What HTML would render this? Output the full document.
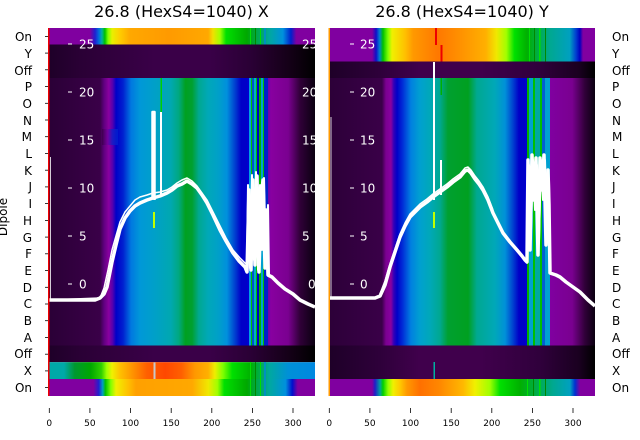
<!DOCTYPE html>
<html><head><meta charset="utf-8"><style>
html,body{margin:0;padding:0;background:#fff;}
svg{display:block;font-family:"DejaVu Sans","Liberation Sans",sans-serif;}
</style></head><body>
<svg width="640" height="440" viewBox="0 0 640 440" xmlns="http://www.w3.org/2000/svg">
<defs>
<clipPath id="cL"><rect x="48" y="28" width="267" height="368"/></clipPath>
<clipPath id="cR"><rect x="329" y="28" width="266" height="368"/></clipPath>
<linearGradient id="lOnT" gradientUnits="userSpaceOnUse" x1="48" y1="0" x2="315" y2="0">
<stop offset="0" stop-color="#8000a0"/><stop offset="0.157" stop-color="#8000a0"/>
<stop offset="0.176" stop-color="#2020d0"/><stop offset="0.191" stop-color="#0070dd"/>
<stop offset="0.202" stop-color="#00b0a0"/><stop offset="0.213" stop-color="#00c000"/>
<stop offset="0.225" stop-color="#80ff00"/><stop offset="0.24" stop-color="#e8f000"/>
<stop offset="0.27" stop-color="#ffcc00"/><stop offset="0.307" stop-color="#ffa800"/>
<stop offset="0.45" stop-color="#ff9a00"/><stop offset="0.6" stop-color="#ffa800"/>
<stop offset="0.618" stop-color="#f0e000"/><stop offset="0.644" stop-color="#a0ff00"/>
<stop offset="0.667" stop-color="#00e000"/><stop offset="0.745" stop-color="#00a800"/>
<stop offset="0.83" stop-color="#00a8a0"/><stop offset="0.88" stop-color="#0090dd"/>
<stop offset="0.91" stop-color="#0020cc"/><stop offset="0.93" stop-color="#8000a0"/>
<stop offset="1" stop-color="#8000a0"/>
</linearGradient>
<linearGradient id="lOnB" gradientUnits="userSpaceOnUse" x1="48" y1="0" x2="315" y2="0">
<stop offset="0" stop-color="#8000a0"/><stop offset="0.17" stop-color="#8000a0"/>
<stop offset="0.19" stop-color="#2020d0"/><stop offset="0.205" stop-color="#00a0c0"/>
<stop offset="0.215" stop-color="#00c000"/><stop offset="0.235" stop-color="#80ff00"/>
<stop offset="0.255" stop-color="#f0f000"/><stop offset="0.3" stop-color="#ffc000"/>
<stop offset="0.33" stop-color="#ffa000"/><stop offset="0.54" stop-color="#ffa800"/>
<stop offset="0.6" stop-color="#f0e800"/><stop offset="0.635" stop-color="#a0ff00"/>
<stop offset="0.66" stop-color="#00e000"/><stop offset="0.745" stop-color="#00a800"/>
<stop offset="0.83" stop-color="#00a8a0"/><stop offset="0.89" stop-color="#0090dd"/>
<stop offset="0.915" stop-color="#0010cc"/><stop offset="0.935" stop-color="#8000a0"/>
<stop offset="1" stop-color="#8000a0"/>
</linearGradient>
<linearGradient id="lX" gradientUnits="userSpaceOnUse" x1="48" y1="0" x2="315" y2="0">
<stop offset="0" stop-color="#00a8a8"/><stop offset="0.06" stop-color="#00a8a8"/>
<stop offset="0.1" stop-color="#009830"/><stop offset="0.16" stop-color="#00a800"/>
<stop offset="0.2" stop-color="#30d000"/><stop offset="0.22" stop-color="#a0ff00"/>
<stop offset="0.24" stop-color="#f0f000"/><stop offset="0.27" stop-color="#ffc000"/>
<stop offset="0.32" stop-color="#ff9000"/><stop offset="0.37" stop-color="#ff6000"/>
<stop offset="0.44" stop-color="#ff4800"/><stop offset="0.5" stop-color="#ff6000"/>
<stop offset="0.55" stop-color="#ff9800"/><stop offset="0.6" stop-color="#ffb000"/>
<stop offset="0.625" stop-color="#eeee00"/><stop offset="0.655" stop-color="#80ff00"/>
<stop offset="0.69" stop-color="#00e000"/><stop offset="0.76" stop-color="#00b000"/>
<stop offset="0.83" stop-color="#00a8a0"/><stop offset="0.9" stop-color="#0090d8"/>
<stop offset="1" stop-color="#0088e0"/>
</linearGradient>
<linearGradient id="lDip" gradientUnits="userSpaceOnUse" x1="48" y1="0" x2="315" y2="0">
<stop offset="0" stop-color="#2a0036"/><stop offset="0.195" stop-color="#3a0048"/>
<stop offset="0.21" stop-color="#600080"/><stop offset="0.228" stop-color="#8a00a0"/>
<stop offset="0.243" stop-color="#5000b0"/><stop offset="0.255" stop-color="#0000c8"/>
<stop offset="0.281" stop-color="#0020d0"/><stop offset="0.311" stop-color="#0078e0"/>
<stop offset="0.345" stop-color="#0098d8"/><stop offset="0.4" stop-color="#00a0c8"/>
<stop offset="0.46" stop-color="#00a8b0"/><stop offset="0.49" stop-color="#00a880"/>
<stop offset="0.515" stop-color="#00a020"/><stop offset="0.54" stop-color="#00a030"/>
<stop offset="0.565" stop-color="#00a890"/><stop offset="0.6" stop-color="#00a8b8"/>
<stop offset="0.637" stop-color="#00a0c8"/>
<stop offset="0.67" stop-color="#0090dd"/><stop offset="0.7" stop-color="#0040d0"/>
<stop offset="0.723" stop-color="#0000c8"/><stop offset="0.745" stop-color="#0000c8"/>
<stop offset="0.82" stop-color="#6000b0"/><stop offset="0.835" stop-color="#8800a0"/>
<stop offset="0.9" stop-color="#7a0090"/><stop offset="0.944" stop-color="#300038"/>
<stop offset="1" stop-color="#0a0010"/>
</linearGradient>
<linearGradient id="lOff" gradientUnits="userSpaceOnUse" x1="48" y1="0" x2="315" y2="0">
<stop offset="0" stop-color="#1e0028"/><stop offset="0.12" stop-color="#2a0035"/>
<stop offset="0.4" stop-color="#3a0048"/><stop offset="0.6" stop-color="#3a0048"/>
<stop offset="0.76" stop-color="#2a0035"/><stop offset="0.9" stop-color="#150018"/>
<stop offset="1" stop-color="#000000"/>
</linearGradient>
<linearGradient id="mBlue" gradientUnits="userSpaceOnUse" x1="102" y1="0" x2="118" y2="0">
<stop offset="0" stop-color="#3a0048"/><stop offset="0.35" stop-color="#7000a0"/>
<stop offset="0.65" stop-color="#1020c8"/><stop offset="1" stop-color="#0020d0"/>
</linearGradient>
<linearGradient id="rOnT" gradientUnits="userSpaceOnUse" x1="329" y1="0" x2="595" y2="0">
<stop offset="0" stop-color="#8000a0"/><stop offset="0.162" stop-color="#8000a0"/>
<stop offset="0.177" stop-color="#1010c8"/><stop offset="0.19" stop-color="#0080d0"/>
<stop offset="0.203" stop-color="#00c000"/><stop offset="0.222" stop-color="#80ff00"/>
<stop offset="0.237" stop-color="#f0f000"/><stop offset="0.286" stop-color="#ffc000"/>
<stop offset="0.316" stop-color="#ff9900"/><stop offset="0.41" stop-color="#ff7800"/>
<stop offset="0.49" stop-color="#ff9000"/><stop offset="0.59" stop-color="#ffb000"/>
<stop offset="0.63" stop-color="#f0e800"/><stop offset="0.667" stop-color="#a0ff00"/>
<stop offset="0.697" stop-color="#00e000"/><stop offset="0.744" stop-color="#00b000"/>
<stop offset="0.83" stop-color="#00a890"/><stop offset="0.905" stop-color="#00a0c0"/>
<stop offset="0.928" stop-color="#0040d0"/><stop offset="0.943" stop-color="#0000c0"/>
<stop offset="0.955" stop-color="#8000a0"/><stop offset="1" stop-color="#8000a0"/>
</linearGradient>
<linearGradient id="rOnB" gradientUnits="userSpaceOnUse" x1="329" y1="0" x2="595" y2="0">
<stop offset="0" stop-color="#8000a0"/><stop offset="0.162" stop-color="#8000a0"/>
<stop offset="0.173" stop-color="#2020c8"/><stop offset="0.192" stop-color="#00a0a0"/>
<stop offset="0.203" stop-color="#00d000"/><stop offset="0.222" stop-color="#90ff00"/>
<stop offset="0.241" stop-color="#f0f000"/><stop offset="0.267" stop-color="#ffc800"/>
<stop offset="0.293" stop-color="#ff9900"/><stop offset="0.342" stop-color="#ff7000"/>
<stop offset="0.417" stop-color="#ff8800"/><stop offset="0.504" stop-color="#ffb800"/>
<stop offset="0.549" stop-color="#f0f000"/><stop offset="0.605" stop-color="#a0ff00"/>
<stop offset="0.643" stop-color="#00e000"/><stop offset="0.718" stop-color="#00b000"/>
<stop offset="0.842" stop-color="#00a890"/><stop offset="0.906" stop-color="#00a0c0"/>
<stop offset="0.925" stop-color="#0030d0"/><stop offset="0.944" stop-color="#8000a0"/>
<stop offset="1" stop-color="#8000a0"/>
</linearGradient>
<linearGradient id="rDip" gradientUnits="userSpaceOnUse" x1="329" y1="0" x2="595" y2="0">
<stop offset="0" stop-color="#2c0038"/><stop offset="0.199" stop-color="#3a0048"/>
<stop offset="0.214" stop-color="#7a0090"/><stop offset="0.233" stop-color="#8800a0"/>
<stop offset="0.244" stop-color="#3000b8"/><stop offset="0.256" stop-color="#0000c8"/>
<stop offset="0.278" stop-color="#0030d8"/><stop offset="0.308" stop-color="#0080e0"/>
<stop offset="0.342" stop-color="#00a0d0"/><stop offset="0.38" stop-color="#00a8b8"/>
<stop offset="0.417" stop-color="#00a890"/><stop offset="0.447" stop-color="#00a030"/>
<stop offset="0.523" stop-color="#00a020"/><stop offset="0.556" stop-color="#00a890"/>
<stop offset="0.624" stop-color="#00a8b8"/><stop offset="0.662" stop-color="#0090d8"/>
<stop offset="0.692" stop-color="#0040d0"/><stop offset="0.714" stop-color="#0000c8"/>
<stop offset="0.737" stop-color="#0000c8"/><stop offset="0.831" stop-color="#8000a0"/>
<stop offset="0.914" stop-color="#7a0090"/><stop offset="0.962" stop-color="#300038"/>
<stop offset="1" stop-color="#0a0010"/>
</linearGradient>
<linearGradient id="rOff" gradientUnits="userSpaceOnUse" x1="329" y1="0" x2="595" y2="0">
<stop offset="0" stop-color="#1e0028"/><stop offset="0.19" stop-color="#2e003a"/>
<stop offset="0.34" stop-color="#40004c"/><stop offset="0.57" stop-color="#40004c"/>
<stop offset="0.79" stop-color="#30003c"/><stop offset="0.94" stop-color="#1a0020"/>
<stop offset="1" stop-color="#000000"/>
</linearGradient>
</defs>

<text x="181.5" y="17" font-size="16" text-anchor="middle" fill="#000">26.8 (HexS4=1040) X</text>
<text x="462" y="17" font-size="16" text-anchor="middle" fill="#000">26.8 (HexS4=1040) Y</text>

<!-- LEFT PANEL -->
<g clip-path="url(#cL)">
<rect x="48" y="28" width="267" height="16.5" fill="url(#lOnT)"/>
<rect x="48" y="44.5" width="267" height="33.5" fill="url(#lOff)"/>
<rect x="48" y="78" width="267" height="267.5" fill="url(#lDip)"/>
<rect x="102" y="129" width="16" height="16" fill="url(#mBlue)" opacity="0.8"/>
<rect x="48" y="345.5" width="267" height="16.7" fill="url(#lOff)"/>
<rect x="48" y="362.2" width="267" height="16.8" fill="url(#lX)"/>
<rect x="48" y="379" width="267" height="17" fill="url(#lOnB)"/>
<g>
<rect x="247" y="78" width="2" height="267.5" fill="#0000d0"/>
<rect x="249" y="78" width="2" height="267.5" fill="#00a0e0"/>
<rect x="251" y="78" width="1" height="267.5" fill="#00c000"/>
<rect x="252" y="78" width="2" height="267.5" fill="#0050d0"/>
<rect x="254" y="78" width="2" height="267.5" fill="#00b0c0"/>
<rect x="256" y="78" width="1" height="267.5" fill="#00c000"/>
<rect x="257" y="78" width="2" height="267.5" fill="#0000c8"/>
<rect x="259" y="78" width="2" height="267.5" fill="#00b000"/>
<rect x="261" y="78" width="2" height="267.5" fill="#00a0d0"/>
<rect x="263" y="78" width="1" height="267.5" fill="#00c000"/>
<rect x="264" y="78" width="4" height="267.5" fill="#0020c8"/>
<rect x="250" y="28" width="1" height="16.5" fill="#00e000"/>
<rect x="255" y="28" width="1" height="16.5" fill="#008800"/>
<rect x="260" y="28" width="1" height="16.5" fill="#00dd00"/>
<rect x="264" y="28" width="2" height="16.5" fill="#0090c0"/>
<rect x="250" y="362" width="1" height="34" fill="#00dd00"/>
<rect x="255" y="362" width="1" height="34" fill="#008800"/>
<rect x="260" y="362" width="1" height="34" fill="#00dd00"/>
<rect x="264" y="362" width="2" height="34" fill="#0090c0"/>
<rect x="160.5" y="78" width="1.5" height="35" fill="#00d000"/>
<rect x="153" y="212" width="2" height="16" fill="#c0ff00"/>
<rect x="153.5" y="362.5" width="2" height="16.5" fill="#c8c8c8"/>
</g>
<g fill="none" stroke="#fff" stroke-linejoin="round">
<polyline stroke-width="3.5" points="48,300 95,300 100,298 104,294 107,287 112,262 116,245 120,229 125,218 130,211 135,206 140,203 147,200 153,198 160,196 167,193 172,190 177,186 182,184 187,181 192,184 197,188 202,195 207,203 213,215 220,230 226,241 233,253 239,261 245,267 247,272 249,190 251,270 253,180 255,265 257,176 259,272 261,200 263,180 265,268 266,210 267,240 268,275 272,277 278,283 285,289 293,294 300,300 308,304 315,307"/>
<polyline stroke-width="1.5" points="48,300 100,298 104,288 108,270 112,250 116,236 120,222 125,212 130,206 135,200 140,197 147,195 153,193 160,192 167,190 172,187 177,183 182,180 187,178 192,181 197,186 202,193 207,200 213,212 220,226 226,238 233,250 240,258 246,264"/>
<polyline stroke-width="2" points="247,260 248,185 250,268 252,175 254,260 256,172 258,270 260,185 262,250 264,178 266,265 268,205 269,275"/>
<polyline stroke-width="2.5" points="152.5,198 152.5,112 154.5,112 154.5,200"/>
<polyline stroke-width="2" points="161,194 161,112"/>
<line x1="50.5" y1="157" x2="50.5" y2="300" stroke-width="1" opacity="0.8"/>
</g>
<g stroke="#fff" stroke-width="1">
<line x1="68" y1="44" x2="72" y2="44"/><line x1="68" y1="92" x2="72" y2="92"/>
<line x1="68" y1="140" x2="72" y2="140"/><line x1="68" y1="188" x2="72" y2="188"/>
<line x1="68" y1="236" x2="72" y2="236"/><line x1="68" y1="284" x2="72" y2="284"/>
</g>
<g fill="#fff" font-size="12">
<text x="79" y="48.5">25</text><text x="79" y="96.5">20</text><text x="79" y="144.5">15</text>
<text x="79" y="192.5">10</text><text x="79" y="240.5">5</text><text x="79" y="288.5">0</text>
<text x="302" y="48.5">25</text><text x="302" y="96.5">20</text><text x="302" y="144.5">15</text>
<text x="302" y="192.5">10</text><text x="302" y="240.5">5</text><text x="308" y="288.5">0</text>
</g>
</g>
<rect x="48" y="28" width="1.5" height="368" fill="#ee0000"/>

<!-- RIGHT PANEL -->
<g clip-path="url(#cR)">
<rect x="329" y="28" width="266" height="33.5" fill="url(#rOnT)"/>
<rect x="329" y="61.5" width="266" height="16.5" fill="url(#rOff)"/>
<rect x="329" y="78" width="266" height="267.5" fill="url(#rDip)"/>
<rect x="329" y="345.5" width="266" height="33.5" fill="url(#rOff)"/>
<rect x="329" y="379" width="266" height="17" fill="url(#rOnB)"/>
<g>
<rect x="525" y="78" width="2" height="267.5" fill="#0000d0"/>
<rect x="527" y="78" width="2" height="267.5" fill="#00b000"/>
<rect x="529" y="78" width="4" height="267.5" fill="#00a0d0"/>
<rect x="533" y="78" width="2" height="267.5" fill="#00c000"/>
<rect x="535" y="78" width="5" height="267.5" fill="#00a8a0"/>
<rect x="540" y="78" width="2" height="267.5" fill="#00c000"/>
<rect x="542" y="78" width="3" height="267.5" fill="#0060d0"/>
<rect x="545" y="78" width="5" height="267.5" fill="#00a0d0"/>
<rect x="529" y="28" width="1" height="33.5" fill="#00e000"/>
<rect x="534" y="28" width="1" height="33.5" fill="#008800"/>
<rect x="539" y="28" width="1.5" height="33.5" fill="#00e000"/>
<rect x="545" y="28" width="1" height="33.5" fill="#008800"/>
<rect x="527" y="379" width="1" height="17" fill="#00e000"/>
<rect x="533" y="379" width="1" height="17" fill="#008800"/>
<rect x="539" y="379" width="1.5" height="17" fill="#00e000"/>
<rect x="545" y="379" width="1" height="17" fill="#008800"/>
<rect x="435" y="28" width="2" height="17" fill="#ee0000"/>
<rect x="440.5" y="45" width="2" height="16.5" fill="#ee0000"/>
<rect x="440.5" y="78" width="1.5" height="17" fill="#00b000"/>
<rect x="433" y="212" width="2" height="16" fill="#c0ff00"/>
<rect x="433.5" y="362" width="1.5" height="17" fill="#00b0a0"/>
</g>
<g fill="none" stroke="#fff" stroke-linejoin="round">
<polyline stroke-width="3.5" points="329,298 375,298 380,296 385,285 390,267 395,252 400,237 405,226 410,217 415,212 420,207 427,202 433,197 440,192 447,187 453,182 460,177 465,171 468,170 471,173 475,179 479,184 483,190 488,200 493,213 498,223 503,233 510,242 517,250 522,256 525,260 527,262 528,160 530,250 532,155 534,200 536,158 538,255 540,158 542,190 544,155 546,245 548,170 549,205 550,273 556,275 560,277 566,282 573,287 580,292 588,300 595,306"/>
<polyline stroke-width="1.5" points="380,294 385,281 390,264 395,249 400,234 405,223 410,214 415,209 420,204 427,199 433,194 440,189 447,184 453,179 460,174 465,168 468,167 471,170 475,176 479,181 483,187 488,197 493,210"/>
<polyline stroke-width="2" points="527,240 529,165 531,230 533,160 535,210 537,165 539,240 541,160 543,200 545,160 547,230 549,180 550,260"/>
<polyline stroke-width="2" points="434,200 434,62"/>
<polyline stroke-width="2" points="441,195 441,160"/>
<line x1="331" y1="117" x2="331" y2="298" stroke-width="1" opacity="0.8"/>
</g>
<g stroke="#fff" stroke-width="1">
<line x1="350" y1="44" x2="354" y2="44"/><line x1="350" y1="92" x2="354" y2="92"/>
<line x1="350" y1="140" x2="354" y2="140"/><line x1="350" y1="188" x2="354" y2="188"/>
<line x1="350" y1="236" x2="354" y2="236"/><line x1="350" y1="284" x2="354" y2="284"/>
</g>
<g fill="#fff" font-size="12">
<text x="360" y="48.5">25</text><text x="360" y="96.5">20</text><text x="360" y="144.5">15</text>
<text x="360" y="192.5">10</text><text x="360" y="240.5">5</text><text x="360" y="288.5">0</text>
</g>
</g>
<rect x="328.5" y="28" width="1.5" height="368" fill="#ff9900"/>

<g font-size="12" fill="#000" text-anchor="end">
<text x="32" y="41">On</text><text x="32" y="58">Y</text><text x="32" y="75">Off</text>
<text x="32" y="91">P</text><text x="32" y="108">O</text><text x="32" y="125">N</text>
<text x="32" y="141">M</text><text x="32" y="158">L</text><text x="32" y="175">K</text>
<text x="32" y="191">J</text><text x="32" y="208">I</text><text x="32" y="225">H</text>
<text x="32" y="242">G</text><text x="32" y="258">F</text><text x="32" y="275">E</text>
<text x="32" y="292">D</text><text x="32" y="308">C</text><text x="32" y="325">B</text>
<text x="32" y="342">A</text><text x="32" y="358">Off</text><text x="32" y="375">X</text>
<text x="32" y="392">On</text>
</g>
<g stroke="#000" stroke-width="0.8">
<line x1="45" y1="36.4" x2="48" y2="36.4"/><line x1="45" y1="53.1" x2="48" y2="53.1"/>
<line x1="45" y1="69.8" x2="48" y2="69.8"/><line x1="45" y1="86.5" x2="48" y2="86.5"/>
<line x1="45" y1="103.3" x2="48" y2="103.3"/><line x1="45" y1="120" x2="48" y2="120"/>
<line x1="45" y1="136.7" x2="48" y2="136.7"/><line x1="45" y1="153.5" x2="48" y2="153.5"/>
<line x1="45" y1="170.2" x2="48" y2="170.2"/><line x1="45" y1="186.9" x2="48" y2="186.9"/>
<line x1="45" y1="203.6" x2="48" y2="203.6"/><line x1="45" y1="220.4" x2="48" y2="220.4"/>
<line x1="45" y1="237.1" x2="48" y2="237.1"/><line x1="45" y1="253.8" x2="48" y2="253.8"/>
<line x1="45" y1="270.5" x2="48" y2="270.5"/><line x1="45" y1="287.3" x2="48" y2="287.3"/>
<line x1="45" y1="304" x2="48" y2="304"/><line x1="45" y1="320.7" x2="48" y2="320.7"/>
<line x1="45" y1="337.5" x2="48" y2="337.5"/><line x1="45" y1="354.2" x2="48" y2="354.2"/>
<line x1="45" y1="370.9" x2="48" y2="370.9"/><line x1="45" y1="387.6" x2="48" y2="387.6"/>
</g>
<g font-size="12" fill="#000" text-anchor="start">
<text x="612" y="41">On</text><text x="612" y="58">Y</text><text x="612" y="75">Off</text>
<text x="612" y="91">P</text><text x="612" y="108">O</text><text x="612" y="125">N</text>
<text x="612" y="141">M</text><text x="612" y="158">L</text><text x="612" y="175">K</text>
<text x="612" y="191">J</text><text x="612" y="208">I</text><text x="612" y="225">H</text>
<text x="612" y="242">G</text><text x="612" y="258">F</text><text x="612" y="275">E</text>
<text x="612" y="292">D</text><text x="612" y="308">C</text><text x="612" y="325">B</text>
<text x="612" y="342">A</text><text x="612" y="358">Off</text><text x="612" y="375">X</text>
<text x="612" y="392">On</text>
</g>
<text transform="translate(7,217) rotate(-90)" font-size="12" text-anchor="middle" fill="#000">Dipole</text>

<g stroke="#000" stroke-width="0.8">
<line x1="49.3" y1="408" x2="49.3" y2="413"/><line x1="89.9" y1="408" x2="89.9" y2="413"/>
<line x1="130.5" y1="408" x2="130.5" y2="413"/><line x1="171.2" y1="408" x2="171.2" y2="413"/>
<line x1="211.8" y1="408" x2="211.8" y2="413"/><line x1="252.4" y1="408" x2="252.4" y2="413"/>
<line x1="293" y1="408" x2="293" y2="413"/>
<line x1="329.3" y1="408" x2="329.3" y2="413"/><line x1="369.9" y1="408" x2="369.9" y2="413"/>
<line x1="410.5" y1="408" x2="410.5" y2="413"/><line x1="451.2" y1="408" x2="451.2" y2="413"/>
<line x1="491.8" y1="408" x2="491.8" y2="413"/><line x1="532.4" y1="408" x2="532.4" y2="413"/>
<line x1="573" y1="408" x2="573" y2="413"/>
</g>
<g font-size="9" fill="#000" text-anchor="middle">
<text x="49.3" y="426">0</text><text x="89.9" y="426">50</text><text x="130.5" y="426">100</text>
<text x="171.2" y="426">150</text><text x="211.8" y="426">200</text><text x="252.4" y="426">250</text>
<text x="293" y="426">300</text>
<text x="329.3" y="426">0</text><text x="369.9" y="426">50</text><text x="410.5" y="426">100</text>
<text x="451.2" y="426">150</text><text x="491.8" y="426">200</text><text x="532.4" y="426">250</text>
<text x="573" y="426">300</text>
</g>
</svg>
</body></html>
